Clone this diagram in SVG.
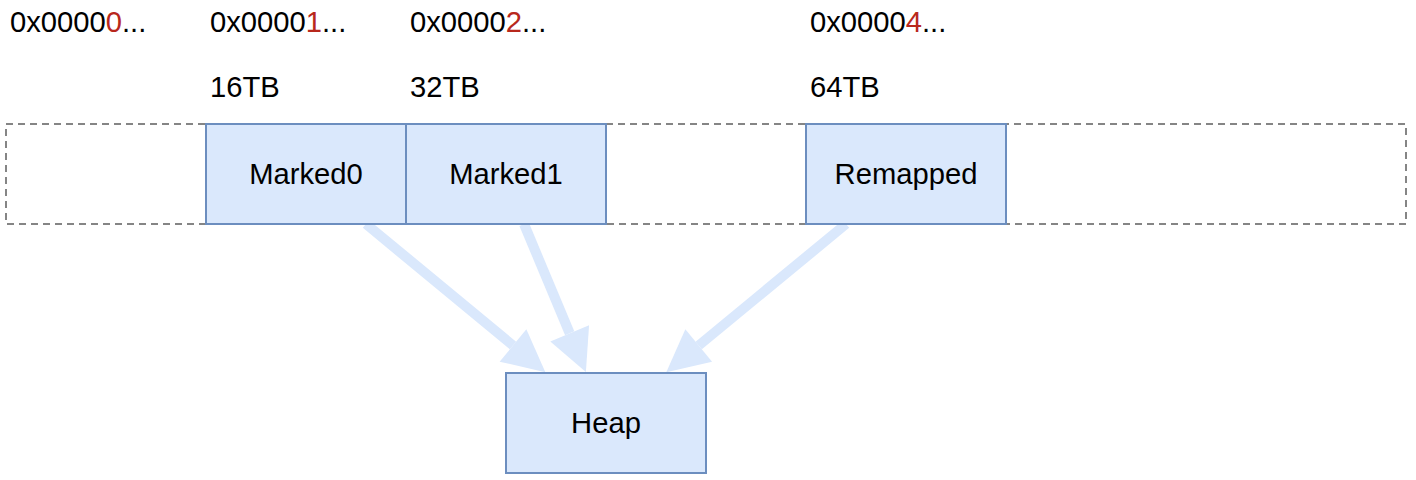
<svg xmlns="http://www.w3.org/2000/svg" width="1416" height="480" viewBox="0 0 1416 480">
<style>
  .lbl { font-family: "Liberation Sans", Arial, Helvetica, sans-serif; font-size: 29.2px; fill: #000; }
  .mid { text-anchor: middle; }
  .red { fill: #b8281c; }
  .box { fill: #dae8fc; stroke: #6c8ebf; stroke-width: 2; }
  .dash { fill: none; stroke: #858585; stroke-width: 2; stroke-dasharray: 7 5; }
  .conn { fill: none; stroke: #dae8fc; stroke-width: 10; marker-end: url(#head); }
</style>
<defs>
  <marker id="head" markerUnits="userSpaceOnUse" viewBox="0 0 42 42" markerWidth="42" markerHeight="42" refX="0" refY="21" orient="auto" overflow="visible">
    <path d="M0,0 L42,21 L0,42 Z" fill="#dae8fc"/>
  </marker>
</defs>
<rect x="0" y="0" width="1416" height="480" fill="#ffffff"/>

<g id="address-labels">
  <text class="lbl" x="10" y="32">0x0000<tspan class="red">0</tspan>...</text>
  <text class="lbl" x="210" y="32">0x0000<tspan class="red">1</tspan>...</text>
  <text class="lbl" x="410" y="32">0x0000<tspan class="red">2</tspan>...</text>
  <text class="lbl" x="810" y="32">0x0000<tspan class="red">4</tspan>...</text>
  <text class="lbl" x="210" y="96.5">16TB</text>
  <text class="lbl" x="410" y="96.5">32TB</text>
  <text class="lbl" x="810" y="96.5">64TB</text>
</g>

<g id="address-space">
  <rect class="dash" x="6" y="124" width="1400" height="100"/>
</g>

<g id="connectors">
  <line class="conn" x1="366" y1="224" x2="513" y2="345.5"/>
  <line class="conn" x1="524" y1="224" x2="569.7" y2="333.3"/>
  <line class="conn" x1="846" y1="224" x2="698.7" y2="345.5"/>
</g>

<g id="marked0">
  <rect class="box" x="206" y="124" width="200" height="100"/>
  <text class="lbl mid" x="306" y="184">Marked0</text>
</g>
<g id="marked1">
  <rect class="box" x="406" y="124" width="200" height="100"/>
  <text class="lbl mid" x="506" y="184">Marked1</text>
</g>
<g id="remapped">
  <rect class="box" x="806" y="124" width="200" height="100"/>
  <text class="lbl mid" x="906" y="184">Remapped</text>
</g>
<g id="heap">
  <rect class="box" x="506" y="373" width="200" height="100"/>
  <text class="lbl mid" x="606" y="433">Heap</text>
</g>
</svg>
